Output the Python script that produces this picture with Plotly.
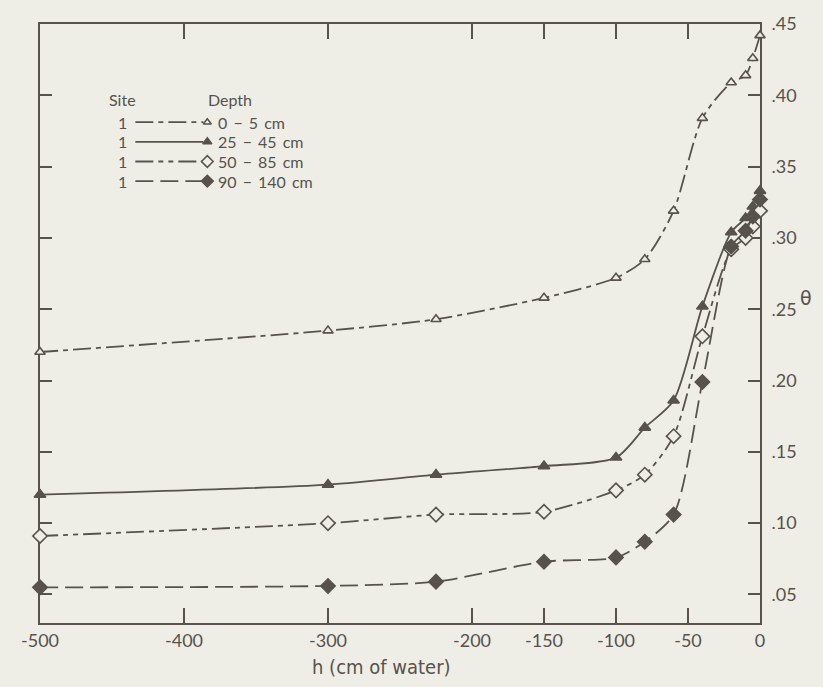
import plotly.graph_objects as go

# ---- data ----
h_values = [-500, -300, -225, -150, -100, -80, -60, -40, -20, -10, -5, 0]
theta_0_5 = [0.220, 0.235, 0.243, 0.258, 0.272, 0.285, 0.319, 0.384, 0.409, 0.414, 0.426, 0.442]
theta_25_45 = [0.120, 0.127, 0.134, 0.140, 0.146, 0.167, 0.186, 0.252, 0.304, 0.314, 0.322, 0.333]
theta_50_85 = [0.091, 0.100, 0.106, 0.108, 0.123, 0.134, 0.161, 0.231, 0.292, 0.300, 0.308, 0.319]
theta_90_140 = [0.055, 0.056, 0.059, 0.073, 0.076, 0.087, 0.106, 0.199, 0.294, 0.305, 0.315, 0.327]

depth_labels = ["0 \u2212 5 cm", "25 \u2212 45 cm", "50 \u2212 85 cm", "90 \u2212 140 cm"]
site_labels = ["1", "1", "1", "1"]

x_ticks = [-500, -400, -300, -200, -150, -100, -50, 0]
y_ticks = [0.05, 0.10, 0.15, 0.20, 0.25, 0.30, 0.35, 0.40, 0.45]
y_ticktext = [".05", ".10", ".15", ".20", ".25", ".30", ".35", ".40", ".45"]

# ---- style ----
BG = "#eeeee7"
INK = "#57524c"
FONT = "Lato, DejaVu Sans, sans-serif"

series = [
    (theta_0_5, "triangle-up", BG, 9, "18px,5px,5px,5px"),
    (theta_25_45, "triangle-up", INK, 10, "solid"),
    (theta_50_85, "diamond", BG, 11, "18px,5px,5px,5px,5px,5px"),
    (theta_90_140, "diamond", INK, 11, "18px,7px"),
]

fig = go.Figure()
for vals, sym, fill, size, dash in series:
    fig.add_trace(go.Scatter(
        x=h_values, y=vals, mode="lines+markers",
        line=dict(color=INK, width=1.8, dash=dash, shape="spline", smoothing=0.75),
        marker=dict(symbol=sym, size=size, color=fill, line=dict(color=INK, width=1.6)),
        cliponaxis=False, showlegend=False, hoverinfo="skip",
    ))

# ---- legend drawn on an overlay axis in pixel units ----
L, R, T, B = 39.6, 760.0, 13.0, 623.0
W, H = R - L, B - T
row_y = [113, 133, 153, 173]
LFONT = dict(family=FONT, size=16, color=INK)
for (vals, sym, fill, size, dash), yy, site, dep in zip(series, row_y, site_labels, depth_labels):
    fig.add_trace(go.Scatter(
        x=[135, 203], y=[yy, yy], xaxis="x2", yaxis="y2", mode="lines",
        line=dict(color=INK, width=1.8, dash=dash), showlegend=False, hoverinfo="skip",
    ))
    fig.add_trace(go.Scatter(
        x=[207], y=[yy], xaxis="x2", yaxis="y2", mode="markers",
        marker=dict(symbol=sym, size=size - 2, color=fill, line=dict(color=INK, width=1.5)),
        showlegend=False, hoverinfo="skip",
    ))
    fig.add_annotation(x=122, y=yy, xref="x2", yref="y2", text=site, showarrow=False,
                       font=LFONT, xanchor="center", yanchor="middle", borderpad=0)
    fig.add_annotation(x=217, y=yy, xref="x2", yref="y2", text=dep.replace(" ", "\u2009 "),
                       showarrow=False, font=LFONT, xanchor="left", yanchor="middle", borderpad=0)

fig.add_annotation(x=122, y=90, xref="x2", yref="y2", text="Site", showarrow=False,
                   font=LFONT, xanchor="center", yanchor="middle", borderpad=0)
fig.add_annotation(x=230, y=90, xref="x2", yref="y2", text="Depth", showarrow=False,
                   font=LFONT, xanchor="center", yanchor="middle", borderpad=0)

# axis titles (paper coordinates)
fig.add_annotation(x=(806 - L) / W, y=(B - 292) / H, xref="paper", yref="paper", text="\u03b8",
                   showarrow=False, font=dict(family="DejaVu Sans, sans-serif", size=19, color=INK),
                   xanchor="center", yanchor="middle")
fig.add_annotation(x=(381 - L) / W, y=(B - 668) / H, xref="paper", yref="paper", text="h (cm of water)",
                   showarrow=False,
                   font=dict(family="Liberation Sans Narrow, DejaVu Sans Condensed, Liberation Sans", size=20, color=INK),
                   xanchor="center", yanchor="middle")

fig.update_layout(
    width=823, height=687,
    margin=dict(l=L, r=823 - R, t=T, b=687 - B, pad=0),
    paper_bgcolor=BG, plot_bgcolor=BG,
    showlegend=False,
    xaxis=dict(
        range=[-500, 0], tickvals=x_ticks, ticktext=[str(v) for v in x_ticks],
        ticks="inside", ticklen=15, tickwidth=1.8, tickcolor=INK,
        showline=True, linecolor=INK, linewidth=1.8, mirror="ticks",
        showgrid=False, zeroline=False, layer="below traces",
        tickfont=dict(family=FONT, size=18, color=INK),
    ),
    yaxis=dict(
        range=[0.03, 0.45], side="right", tickvals=y_ticks, ticktext=y_ticktext,
        ticks="inside", ticklen=12, tickwidth=1.8, tickcolor=INK,
        showline=True, linecolor=INK, linewidth=1.8, mirror="ticks",
        showgrid=False, zeroline=False, layer="below traces",
        ticklabelstandoff=6,
        tickfont=dict(family=FONT, size=18, color=INK),
    ),
    xaxis2=dict(overlaying="x", range=[L, R], visible=False, fixedrange=True),
    yaxis2=dict(overlaying="y", range=[B, T], visible=False, fixedrange=True),
)

fig.write_html("out.html")
